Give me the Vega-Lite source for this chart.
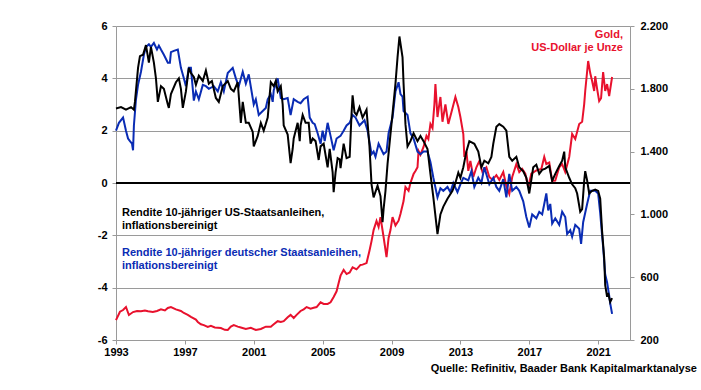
{
"$schema": "https://vega.github.io/schema/vega-lite/v6.json",
"width": 514, "height": 314,
"autosize": {"type": "none"},
"padding": {"left": 116, "top": 26, "right": 71, "bottom": 50},
"background": "white",
"config": {"view": {"stroke": null}, "font": "Liberation Sans"},
"datasets": {
"us": [{"t":1993.00,"v":2.85},{"t":1993.29,"v":2.9},{"t":1993.58,"v":2.8},{"t":1993.87,"v":2.9},{"t":1994.04,"v":2.8},{"t":1994.10,"v":3.1},{"t":1994.28,"v":4.4},{"t":1994.39,"v":4.85},{"t":1994.57,"v":4.9},{"t":1994.74,"v":5.27},{"t":1994.91,"v":4.6},{"t":1995.03,"v":5.2},{"t":1995.20,"v":4.6},{"t":1995.32,"v":4.0},{"t":1995.43,"v":3.1},{"t":1995.61,"v":3.7},{"t":1995.78,"v":3.6},{"t":1996.01,"v":3.0},{"t":1996.07,"v":2.87},{"t":1996.19,"v":3.4},{"t":1996.48,"v":3.85},{"t":1996.65,"v":4.0},{"t":1996.77,"v":3.6},{"t":1996.88,"v":2.87},{"t":1997.06,"v":3.5},{"t":1997.23,"v":4.4},{"t":1997.35,"v":4.2},{"t":1997.52,"v":4.05},{"t":1997.64,"v":3.75},{"t":1997.81,"v":4.1},{"t":1998.04,"v":3.9},{"t":1998.22,"v":4.3},{"t":1998.39,"v":3.8},{"t":1998.57,"v":3.9},{"t":1998.80,"v":3.25},{"t":1998.97,"v":3.1},{"t":1999.20,"v":3.7},{"t":1999.49,"v":3.9},{"t":1999.67,"v":3.6},{"t":1999.84,"v":3.5},{"t":2000.07,"v":3.85},{"t":2000.25,"v":2.3},{"t":2000.36,"v":3.1},{"t":2000.54,"v":2.3},{"t":2000.71,"v":2.3},{"t":2000.94,"v":1.95},{"t":2001.00,"v":1.4},{"t":2001.23,"v":1.8},{"t":2001.41,"v":2.3},{"t":2001.58,"v":2.0},{"t":2001.81,"v":2.5},{"t":2001.99,"v":3.85},{"t":2002.16,"v":3.7},{"t":2002.28,"v":3.9},{"t":2002.39,"v":3.5},{"t":2002.57,"v":3.7},{"t":2002.68,"v":3.0},{"t":2002.74,"v":2.2},{"t":2002.97,"v":1.85},{"t":2003.14,"v":0.76},{"t":2003.26,"v":1.3},{"t":2003.32,"v":1.7},{"t":2003.55,"v":2.3},{"t":2003.67,"v":1.6},{"t":2003.72,"v":2.2},{"t":2003.84,"v":2.6},{"t":2004.01,"v":2.3},{"t":2004.19,"v":2.3},{"t":2004.30,"v":1.5},{"t":2004.42,"v":1.7},{"t":2004.59,"v":1.6},{"t":2004.77,"v":0.88},{"t":2004.88,"v":1.4},{"t":2005.06,"v":1.5},{"t":2005.29,"v":0.6},{"t":2005.41,"v":1.3},{"t":2005.58,"v":0.42},{"t":2005.64,"v":-0.35},{"t":2005.75,"v":0.4},{"t":2005.87,"v":0.95},{"t":2005.99,"v":0.9},{"t":2006.04,"v":0.57},{"t":2006.22,"v":1.5},{"t":2006.39,"v":0.95},{"t":2006.57,"v":1.0},{"t":2006.68,"v":2.65},{"t":2006.74,"v":3.35},{"t":2006.85,"v":2.7},{"t":2006.97,"v":2.6},{"t":2007.14,"v":2.9},{"t":2007.32,"v":2.5},{"t":2007.55,"v":2.8},{"t":2007.72,"v":1.4},{"t":2007.84,"v":-0.05},{"t":2007.96,"v":-0.55},{"t":2008.19,"v":-0.1},{"t":2008.36,"v":-0.5},{"t":2008.48,"v":-1.5},{"t":2008.54,"v":-1.0},{"t":2008.65,"v":-0.3},{"t":2008.77,"v":0.73},{"t":2008.94,"v":1.87},{"t":2009.06,"v":2.65},{"t":2009.23,"v":3.8},{"t":2009.35,"v":4.8},{"t":2009.46,"v":5.6},{"t":2009.64,"v":4.8},{"t":2009.70,"v":3.8},{"t":2009.81,"v":2.25},{"t":2009.93,"v":1.4},{"t":2010.10,"v":1.6},{"t":2010.28,"v":1.9},{"t":2010.51,"v":1.6},{"t":2010.68,"v":1.8},{"t":2010.86,"v":1.6},{"t":2011.09,"v":1.3},{"t":2011.26,"v":0.35},{"t":2011.43,"v":-0.55},{"t":2011.67,"v":-1.95},{"t":2011.84,"v":-1.2},{"t":2012.01,"v":-0.9},{"t":2012.25,"v":-0.6},{"t":2012.54,"v":-0.3},{"t":2012.71,"v":0.0},{"t":2012.88,"v":0.4},{"t":2013.00,"v":0.2},{"t":2013.17,"v":0.6},{"t":2013.35,"v":1.2},{"t":2013.52,"v":1.6},{"t":2013.81,"v":1.5},{"t":2014.04,"v":1.2},{"t":2014.22,"v":0.6},{"t":2014.39,"v":0.85},{"t":2014.62,"v":0.75},{"t":2014.80,"v":1.0},{"t":2014.91,"v":1.5},{"t":2015.09,"v":2.15},{"t":2015.26,"v":2.25},{"t":2015.49,"v":2.15},{"t":2015.67,"v":2.0},{"t":2015.84,"v":1.0},{"t":2016.01,"v":0.85},{"t":2016.25,"v":1.0},{"t":2016.42,"v":0.6},{"t":2016.65,"v":0.45},{"t":2016.83,"v":0.2},{"t":2017.00,"v":-0.4},{"t":2017.23,"v":0.6},{"t":2017.41,"v":0.7},{"t":2017.58,"v":0.35},{"t":2017.75,"v":0.5},{"t":2017.93,"v":0.55},{"t":2018.16,"v":0.65},{"t":2018.33,"v":0.08},{"t":2018.51,"v":0.35},{"t":2018.74,"v":0.65},{"t":2018.91,"v":0.85},{"t":2019.03,"v":1.2},{"t":2019.09,"v":0.6},{"t":2019.32,"v":0.2},{"t":2019.49,"v":-0.05},{"t":2019.67,"v":-0.2},{"t":2019.78,"v":-0.4},{"t":2019.96,"v":-1.1},{"t":2020.07,"v":-1.0},{"t":2020.19,"v":0.08},{"t":2020.25,"v":0.45},{"t":2020.36,"v":0.1},{"t":2020.48,"v":-0.4},{"t":2020.65,"v":-0.3},{"t":2020.83,"v":-0.25},{"t":2021.00,"v":-0.3},{"t":2021.12,"v":-0.6},{"t":2021.23,"v":-1.85},{"t":2021.35,"v":-2.85},{"t":2021.41,"v":-3.9},{"t":2021.52,"v":-4.35},{"t":2021.58,"v":-4.2},{"t":2021.70,"v":-4.55},{"t":2021.81,"v":-4.4}],
"de": [{"t":1993.00,"v":2.0},{"t":1993.17,"v":2.3},{"t":1993.41,"v":2.5},{"t":1993.58,"v":2.0},{"t":1993.70,"v":1.7},{"t":1993.81,"v":1.6},{"t":1993.93,"v":1.5},{"t":1993.99,"v":1.25},{"t":1994.04,"v":2.2},{"t":1994.16,"v":3.2},{"t":1994.28,"v":3.75},{"t":1994.45,"v":4.25},{"t":1994.62,"v":4.9},{"t":1994.74,"v":5.2},{"t":1994.91,"v":5.3},{"t":1995.03,"v":5.2},{"t":1995.20,"v":5.35},{"t":1995.38,"v":5.1},{"t":1995.49,"v":5.25},{"t":1995.61,"v":5.1},{"t":1995.78,"v":4.9},{"t":1996.01,"v":4.6},{"t":1996.13,"v":4.6},{"t":1996.19,"v":5.0},{"t":1996.36,"v":5.05},{"t":1996.59,"v":5.1},{"t":1996.77,"v":4.4},{"t":1996.94,"v":4.0},{"t":1997.06,"v":3.7},{"t":1997.23,"v":4.4},{"t":1997.35,"v":4.4},{"t":1997.52,"v":3.15},{"t":1997.64,"v":3.5},{"t":1997.81,"v":3.2},{"t":1998.04,"v":3.75},{"t":1998.22,"v":3.7},{"t":1998.39,"v":3.6},{"t":1998.68,"v":3.7},{"t":1998.91,"v":3.5},{"t":1999.09,"v":3.85},{"t":1999.26,"v":3.5},{"t":1999.49,"v":4.2},{"t":1999.78,"v":4.4},{"t":1999.96,"v":4.0},{"t":2000.13,"v":3.7},{"t":2000.36,"v":4.25},{"t":2000.54,"v":3.8},{"t":2000.71,"v":4.15},{"t":2001.00,"v":3.0},{"t":2001.12,"v":3.2},{"t":2001.29,"v":2.6},{"t":2001.52,"v":2.75},{"t":2001.70,"v":2.87},{"t":2001.81,"v":3.2},{"t":2001.99,"v":3.4},{"t":2002.10,"v":3.1},{"t":2002.16,"v":3.55},{"t":2002.39,"v":4.0},{"t":2002.57,"v":3.25},{"t":2002.74,"v":3.2},{"t":2002.97,"v":3.25},{"t":2003.14,"v":2.6},{"t":2003.32,"v":3.2},{"t":2003.55,"v":3.1},{"t":2003.72,"v":3.05},{"t":2003.90,"v":3.2},{"t":2004.13,"v":3.3},{"t":2004.25,"v":2.5},{"t":2004.42,"v":2.3},{"t":2004.54,"v":2.25},{"t":2004.71,"v":1.9},{"t":2004.88,"v":1.5},{"t":2005.00,"v":2.0},{"t":2005.12,"v":1.6},{"t":2005.29,"v":2.3},{"t":2005.46,"v":1.8},{"t":2005.64,"v":1.25},{"t":2005.81,"v":1.7},{"t":2006.04,"v":1.8},{"t":2006.22,"v":2.0},{"t":2006.39,"v":2.2},{"t":2006.57,"v":2.3},{"t":2006.74,"v":2.6},{"t":2006.91,"v":2.5},{"t":2007.14,"v":2.2},{"t":2007.43,"v":2.4},{"t":2007.61,"v":2.0},{"t":2007.84,"v":1.1},{"t":2007.96,"v":1.2},{"t":2008.07,"v":1.0},{"t":2008.25,"v":1.5},{"t":2008.54,"v":1.1},{"t":2008.71,"v":1.2},{"t":2008.83,"v":1.9},{"t":2009.06,"v":2.5},{"t":2009.23,"v":3.5},{"t":2009.41,"v":3.85},{"t":2009.52,"v":3.4},{"t":2009.64,"v":3.3},{"t":2009.70,"v":2.75},{"t":2009.93,"v":2.6},{"t":2010.10,"v":1.9},{"t":2010.28,"v":1.7},{"t":2010.51,"v":1.2},{"t":2010.68,"v":1.1},{"t":2010.86,"v":1.2},{"t":2011.09,"v":1.2},{"t":2011.26,"v":0.8},{"t":2011.43,"v":0.2},{"t":2011.67,"v":-0.55},{"t":2011.84,"v":-0.2},{"t":2012.01,"v":-0.3},{"t":2012.25,"v":-0.15},{"t":2012.42,"v":-0.35},{"t":2012.59,"v":0.0},{"t":2012.83,"v":-0.35},{"t":2013.00,"v":-0.05},{"t":2013.17,"v":0.2},{"t":2013.46,"v":0.1},{"t":2013.64,"v":0.45},{"t":2013.81,"v":-0.15},{"t":2014.04,"v":0.2},{"t":2014.22,"v":0.0},{"t":2014.39,"v":0.6},{"t":2014.68,"v":-0.05},{"t":2014.91,"v":0.2},{"t":2015.09,"v":-0.15},{"t":2015.26,"v":-0.3},{"t":2015.49,"v":0.15},{"t":2015.67,"v":-0.55},{"t":2015.84,"v":0.35},{"t":2016.01,"v":-0.3},{"t":2016.25,"v":-0.15},{"t":2016.42,"v":-0.3},{"t":2016.65,"v":-0.7},{"t":2016.83,"v":-1.3},{"t":2017.00,"v":-1.7},{"t":2017.17,"v":-1.2},{"t":2017.41,"v":-1.35},{"t":2017.58,"v":-1.1},{"t":2017.75,"v":-1.2},{"t":2017.93,"v":-0.6},{"t":2017.99,"v":-0.4},{"t":2018.10,"v":-1.05},{"t":2018.22,"v":-0.8},{"t":2018.33,"v":-1.55},{"t":2018.51,"v":-1.35},{"t":2018.74,"v":-1.6},{"t":2018.91,"v":-1.1},{"t":2019.09,"v":-1.3},{"t":2019.20,"v":-1.95},{"t":2019.38,"v":-1.8},{"t":2019.49,"v":-2.05},{"t":2019.67,"v":-1.6},{"t":2019.90,"v":-1.75},{"t":2020.01,"v":-2.33},{"t":2020.13,"v":-1.5},{"t":2020.36,"v":-0.8},{"t":2020.54,"v":-0.3},{"t":2020.83,"v":-0.3},{"t":2021.00,"v":-0.4},{"t":2021.12,"v":-1.15},{"t":2021.23,"v":-2.0},{"t":2021.29,"v":-2.45},{"t":2021.41,"v":-3.5},{"t":2021.52,"v":-3.8},{"t":2021.64,"v":-4.3},{"t":2021.70,"v":-4.6},{"t":2021.81,"v":-5.0}],
"gold": [{"t":1993.00,"v":327},{"t":1993.23,"v":380},{"t":1993.41,"v":391},{"t":1993.58,"v":410},{"t":1993.75,"v":359},{"t":1993.99,"v":378},{"t":1994.22,"v":385},{"t":1994.45,"v":383},{"t":1994.68,"v":388},{"t":1994.86,"v":383},{"t":1995.14,"v":378},{"t":1995.38,"v":385},{"t":1995.61,"v":395},{"t":1995.84,"v":388},{"t":1996.01,"v":404},{"t":1996.19,"v":410},{"t":1996.48,"v":395},{"t":1996.77,"v":385},{"t":1996.94,"v":372},{"t":1997.17,"v":360},{"t":1997.35,"v":347},{"t":1997.64,"v":330},{"t":1997.75,"v":315},{"t":1997.93,"v":300},{"t":1998.10,"v":295},{"t":1998.33,"v":283},{"t":1998.51,"v":290},{"t":1998.74,"v":280},{"t":1999.09,"v":276},{"t":1999.32,"v":265},{"t":1999.49,"v":264},{"t":1999.67,"v":285},{"t":1999.84,"v":295},{"t":2000.07,"v":285},{"t":2000.25,"v":280},{"t":2000.54,"v":270},{"t":2000.83,"v":278},{"t":2001.12,"v":264},{"t":2001.41,"v":270},{"t":2001.70,"v":285},{"t":2001.99,"v":285},{"t":2002.16,"v":300},{"t":2002.39,"v":320},{"t":2002.57,"v":315},{"t":2002.74,"v":320},{"t":2002.97,"v":345},{"t":2003.14,"v":360},{"t":2003.32,"v":340},{"t":2003.49,"v":360},{"t":2003.72,"v":385},{"t":2003.90,"v":395},{"t":2004.07,"v":410},{"t":2004.30,"v":400},{"t":2004.48,"v":405},{"t":2004.65,"v":410},{"t":2004.88,"v":440},{"t":2005.06,"v":430},{"t":2005.29,"v":430},{"t":2005.46,"v":440},{"t":2005.64,"v":474},{"t":2005.81,"v":510},{"t":2005.93,"v":563},{"t":2006.04,"v":610},{"t":2006.22,"v":646},{"t":2006.39,"v":620},{"t":2006.57,"v":630},{"t":2006.74,"v":663},{"t":2006.97,"v":650},{"t":2007.20,"v":678},{"t":2007.32,"v":680},{"t":2007.55,"v":690},{"t":2007.72,"v":769},{"t":2007.84,"v":830},{"t":2007.96,"v":900},{"t":2008.13,"v":958},{"t":2008.25,"v":920},{"t":2008.36,"v":983},{"t":2008.54,"v":856},{"t":2008.71,"v":728},{"t":2008.83,"v":850},{"t":2008.94,"v":900},{"t":2009.06,"v":983},{"t":2009.23,"v":930},{"t":2009.41,"v":960},{"t":2009.52,"v":1003},{"t":2009.70,"v":1085},{"t":2009.81,"v":1175},{"t":2009.99,"v":1150},{"t":2010.10,"v":1200},{"t":2010.28,"v":1257},{"t":2010.39,"v":1277},{"t":2010.51,"v":1300},{"t":2010.57,"v":1404},{"t":2010.68,"v":1380},{"t":2010.86,"v":1430},{"t":2011.03,"v":1500},{"t":2011.14,"v":1480},{"t":2011.26,"v":1576},{"t":2011.38,"v":1550},{"t":2011.49,"v":1700},{"t":2011.55,"v":1830},{"t":2011.67,"v":1620},{"t":2011.84,"v":1748},{"t":2011.96,"v":1590},{"t":2012.13,"v":1700},{"t":2012.30,"v":1576},{"t":2012.48,"v":1650},{"t":2012.71,"v":1748},{"t":2012.88,"v":1684},{"t":2013.00,"v":1620},{"t":2013.17,"v":1512},{"t":2013.23,"v":1366},{"t":2013.35,"v":1400},{"t":2013.46,"v":1277},{"t":2013.58,"v":1340},{"t":2013.75,"v":1238},{"t":2013.93,"v":1300},{"t":2014.10,"v":1340},{"t":2014.28,"v":1270},{"t":2014.51,"v":1300},{"t":2014.68,"v":1238},{"t":2014.86,"v":1220},{"t":2015.09,"v":1250},{"t":2015.26,"v":1220},{"t":2015.49,"v":1270},{"t":2015.67,"v":1180},{"t":2015.84,"v":1130},{"t":2016.01,"v":1238},{"t":2016.25,"v":1321},{"t":2016.42,"v":1270},{"t":2016.59,"v":1290},{"t":2016.77,"v":1260},{"t":2016.94,"v":1175},{"t":2017.12,"v":1260},{"t":2017.41,"v":1280},{"t":2017.70,"v":1290},{"t":2017.87,"v":1366},{"t":2017.99,"v":1321},{"t":2018.16,"v":1330},{"t":2018.33,"v":1213},{"t":2018.51,"v":1215},{"t":2018.74,"v":1300},{"t":2018.91,"v":1320},{"t":2019.09,"v":1270},{"t":2019.32,"v":1366},{"t":2019.49,"v":1512},{"t":2019.67,"v":1480},{"t":2019.90,"v":1576},{"t":2020.07,"v":1590},{"t":2020.19,"v":1703},{"t":2020.25,"v":1786},{"t":2020.42,"v":1977},{"t":2020.54,"v":1900},{"t":2020.65,"v":1850},{"t":2020.77,"v":1786},{"t":2020.83,"v":1880},{"t":2020.94,"v":1800},{"t":2021.06,"v":1722},{"t":2021.17,"v":1740},{"t":2021.29,"v":1907},{"t":2021.41,"v":1786},{"t":2021.52,"v":1830},{"t":2021.64,"v":1754},{"t":2021.81,"v":1875}]
},
"layer": [
{
"data": {"name": "gold"},
"mark": {"type": "line", "color": "#e8112d", "strokeWidth": 2},
"encoding": {
"x": {"field": "t", "type": "quantitative", "scale": {"domain": [1993, 2022.85], "nice": false, "zero": false},
"axis": {"orient": "bottom", "title": null, "values": [1993, 1997, 2001, 2005, 2009, 2013, 2017, 2021], "format": "d", "grid": false, "domainColor": "#9a9a9a", "tickColor": "#9a9a9a", "tickSize": 4, "labelFont": "Liberation Sans", "labelFontSize": 11, "labelFontWeight": "bold", "labelColor": "#000000", "labelPadding": 2, "labelFlush": false}},
"y": {"field": "v", "type": "quantitative", "scale": {"domain": [200, 2200], "nice": false, "zero": false},
"axis": {"orient": "right", "title": null, "values": [200, 600, 1000, 1400, 1800, 2200], "grid": false, "domainColor": "#9a9a9a", "tickColor": "#9a9a9a", "tickSize": 4, "labelFont": "Liberation Sans", "labelFontSize": 11, "labelFontWeight": "bold", "labelColor": "#000000", "labelPadding": 6, "labelExpr": "replace(format(datum.value, ','), ',', '.')"}}
}
},
{
"layer": [
{
"data": {"name": "de"},
"mark": {"type": "line", "color": "#0a2cb4", "strokeWidth": 2},
"encoding": {
"x": {"field": "t", "type": "quantitative", "scale": {"domain": [1993, 2022.85], "nice": false, "zero": false}},
"y": {"field": "v", "type": "quantitative", "scale": {"domain": [-6, 6], "nice": false, "zero": false},
"axis": {"orient": "left", "title": null, "values": [-6, -4, -2, 0, 2, 4, 6], "grid": true, "gridColor": "#9a9a9a", "gridWidth": 1, "domainColor": "#9a9a9a", "tickColor": "#9a9a9a", "tickSize": 4, "labelFont": "Liberation Sans", "labelFontSize": 11, "labelFontWeight": "bold", "labelColor": "#000000", "labelPadding": 5, "labelExpr": "replace(format(datum.value, 'd'), '\u2212', '-')"}}
}
},
{
"data": {"name": "us"},
"mark": {"type": "line", "color": "#000000", "strokeWidth": 2},
"encoding": {
"x": {"field": "t", "type": "quantitative", "scale": {"domain": [1993, 2022.85], "nice": false, "zero": false}},
"y": {"field": "v", "type": "quantitative", "scale": {"domain": [-6, 6], "nice": false, "zero": false}}
}
},
{
"data": {"values": [{}]},
"mark": {"type": "rule", "color": "#000000", "strokeWidth": 2},
"encoding": {"y": {"datum": 0, "type": "quantitative"}}
},
{
"data": {"values": [{}]},
"mark": {"type": "text", "align": "left", "baseline": "top", "lineHeight": 13, "font": "Liberation Sans", "fontSize": 11, "fontWeight": "bold", "color": "#000000"},
"encoding": {"x": {"datum": 1993.35, "type": "quantitative"}, "y": {"datum": -0.92, "type": "quantitative"}, "text": {"value": ["Rendite 10-jähriger US-Staatsanleihen,", "inflationsbereinigt"]}}
},
{
"data": {"values": [{}]},
"mark": {"type": "text", "align": "left", "baseline": "top", "lineHeight": 13, "font": "Liberation Sans", "fontSize": 11, "fontWeight": "bold", "color": "#0a2cb4"},
"encoding": {"x": {"datum": 1993.35, "type": "quantitative"}, "y": {"datum": -2.445, "type": "quantitative"}, "text": {"value": ["Rendite 10-jähriger deutscher Staatsanleihen,", "inflationsbereinigt"]}}
},
{
"data": {"values": [{}]},
"mark": {"type": "text", "align": "right", "baseline": "top", "lineHeight": 13, "font": "Liberation Sans", "fontSize": 11, "fontWeight": "bold", "color": "#e8112d"},
"encoding": {"x": {"datum": 2022.44, "type": "quantitative"}, "y": {"datum": 5.885, "type": "quantitative"}, "text": {"value": ["Gold,", "US-Dollar je Unze"]}}
},
{
"data": {"values": [{}]},
"mark": {"type": "text", "align": "right", "baseline": "middle", "font": "Liberation Sans", "fontSize": 11, "fontWeight": "bold", "color": "#000000"},
"encoding": {"x": {"datum": 2026.74, "type": "quantitative"}, "y": {"datum": -7.108, "type": "quantitative"}, "text": {"value": "Quelle: Refinitiv, Baader Bank Kapitalmarktanalyse"}}
}
]
}
],
"resolve": {"scale": {"y": "independent"}}
}
